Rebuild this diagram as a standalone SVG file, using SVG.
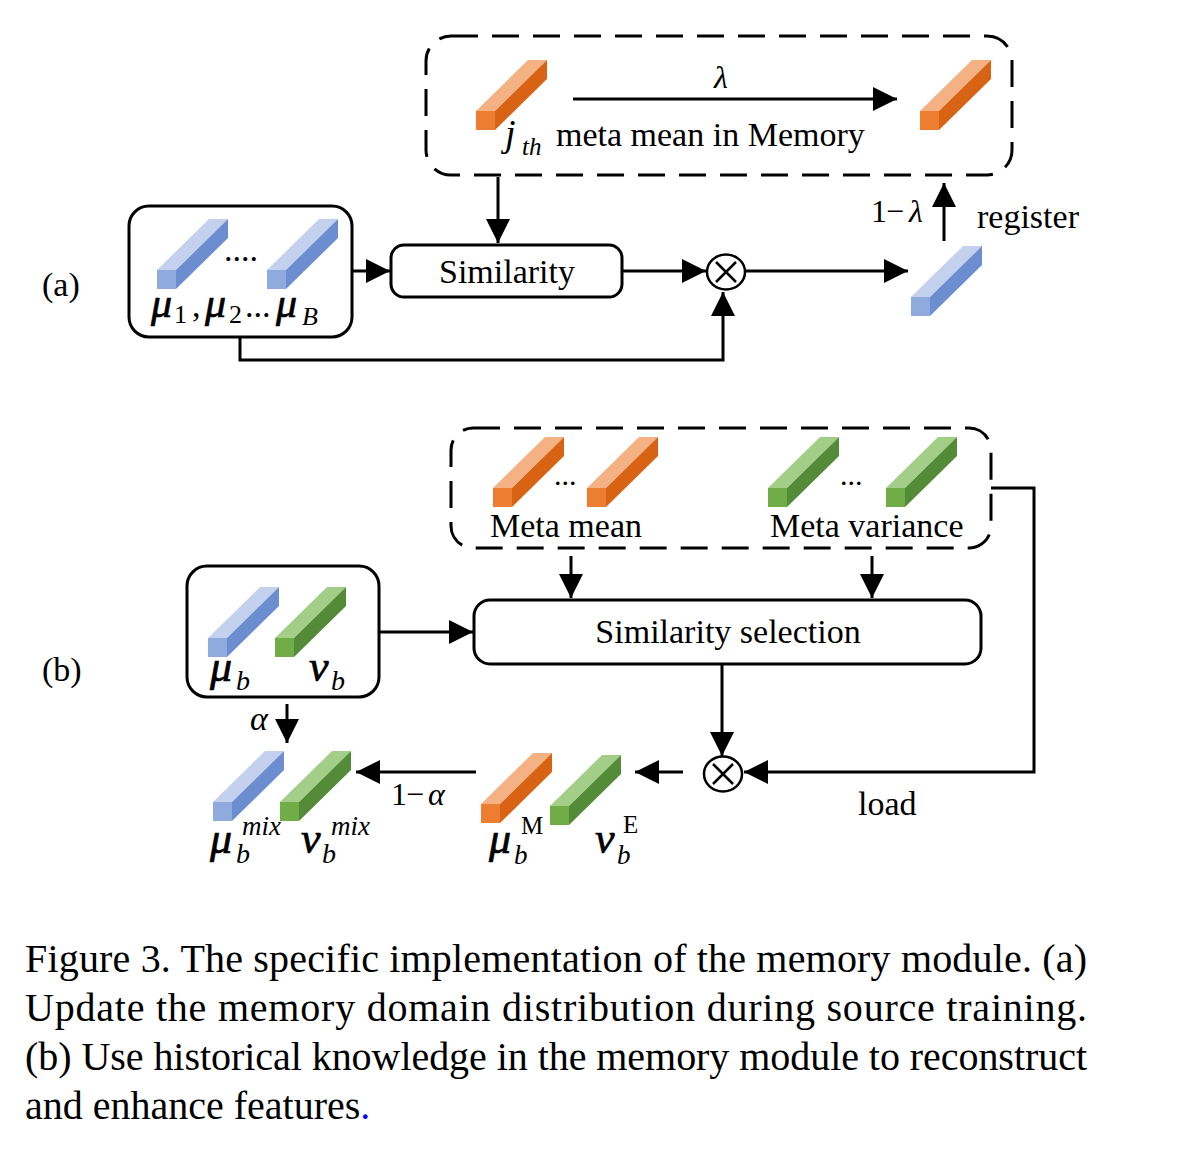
<svg xmlns="http://www.w3.org/2000/svg" width="1188" height="1175" viewBox="0 0 1188 1175">
<style>
.ln{stroke:#000;stroke-width:3;fill:none}
.arr{marker-end:url(#ah)}
.box{fill:none;stroke:#000;stroke-width:3}
.dash{stroke-dasharray:27 14}
text{font-family:"Liberation Serif","Times New Roman",serif;fill:#000}
.i{font-style:italic}
.n{font-style:normal;stroke:none}
.m{font-style:italic;stroke:#000;stroke-width:0.7}
.s34{font-size:34px}
.cap{font-size:40px}
</style>
<defs>
<marker id="ah" markerUnits="userSpaceOnUse" markerWidth="24" markerHeight="24" refX="24" refY="12" orient="auto">
<path d="M0,0 L24,12 L0,24 z" fill="#000"/>
</marker>
<g id="bb"><polygon points="0,0 19,0 71,-51 52,-51" fill="#C3D1EE"/><polygon points="19,0 71,-51 71,-32 19,19" fill="#6C8ED0"/><rect x="0" y="0" width="19" height="19" fill="#8FAADC"/></g>
<g id="bo"><polygon points="0,0 19,0 71,-51 52,-51" fill="#F4B183"/><polygon points="19,0 71,-51 71,-32 19,19" fill="#D86315"/><rect x="0" y="0" width="19" height="19" fill="#ED7D31"/></g>
<g id="bg"><polygon points="0,0 19,0 71,-51 52,-51" fill="#A2CE88"/><polygon points="19,0 71,-51 71,-32 19,19" fill="#548B38"/><rect x="0" y="0" width="19" height="19" fill="#70AD47"/></g>
<g id="otimes"><ellipse cx="0" cy="0" rx="19" ry="17.5" fill="#fff" stroke="#000" stroke-width="2.5"/><path d="M-10,-10 L10,10 M10,-10 L-10,10" stroke="#000" stroke-width="2.5"/></g>
</defs>

<g id="connectors">
<path class="ln arr" d="M498,177 L498,243"/>
<path class="ln arr" d="M352,271 L390,271"/>
<path class="ln arr" d="M622,271 L706,271"/>
<path class="ln arr" d="M745,271 L908,271"/>
<path class="ln arr" d="M944,241 L944,183"/>
<path class="ln arr" d="M240,337 L240,360 L723,360 L723,292"/>
<path class="ln arr" d="M573,99 L897,99"/>
<path class="ln arr" d="M571,556 L571,598"/>
<path class="ln arr" d="M872,556 L872,598"/>
<path class="ln arr" d="M379,632 L473,632"/>
<path class="ln arr" d="M722,664 L722,756"/>
<path class="ln arr" d="M991,488 L1034,488 L1034,772 L744,772"/>
<path class="ln arr" d="M683,772 L635,772"/>
<path class="ln arr" d="M476,772 L356,772"/>
<path class="ln arr" d="M287,704 L287,743"/>
</g>

<g id="memory-a">
<rect class="box dash" x="426" y="36" width="586" height="139" rx="25"/>
<use href="#bo" x="476" y="111"/>
<use href="#bo" x="920" y="111"/>
<text class="i" x="714" y="88" font-size="32">λ</text>
<text class="i"><tspan x="505" y="146" font-size="38">j</tspan><tspan x="522" y="155" font-size="25">th</tspan></text>
<text class="s34" x="556" y="146">meta mean in Memory</text>
</g>

<g id="mu-box-a">
<rect class="box" x="129" y="206" width="223" height="131" rx="20"/>
<use href="#bb" x="157" y="270"/>
<use href="#bb" x="267" y="270"/>
<text class="s34" x="224" y="261">....</text>
<text class="m" font-size="42"><tspan x="151" y="317">μ</tspan><tspan class="n" x="174" y="323" font-size="26">1</tspan><tspan class="n" x="192" y="317" font-size="34">,</tspan><tspan x="205" y="317">μ</tspan><tspan class="n" x="229" y="323" font-size="26">2</tspan><tspan class="n" x="245" y="317" font-size="34">...</tspan><tspan x="276" y="317">μ</tspan><tspan class="i" style="stroke:none" x="302" y="325" font-size="26">B</tspan></text>
</g>

<g id="similarity-a">
<rect class="box" x="391" y="245" width="231" height="52" rx="13"/>
<text class="s34" x="507" y="283" text-anchor="middle">Similarity</text>
</g>

<g id="otimes-a"><use href="#otimes" x="726" y="272"/></g>

<g id="bar-out-a">
<use href="#bb" x="911" y="297"/>
<text font-size="32" y="222"><tspan x="871">1</tspan><tspan x="886">−</tspan><tspan class="i" x="909">λ</tspan></text>
<text class="s34" x="977" y="228">register</text>
</g>

<text id="label-a" class="s34" x="42" y="296">(a)</text>

<g id="memory-b">
<rect class="box dash" x="451" y="428" width="540" height="120" rx="22"/>
<use href="#bo" x="493" y="488"/>
<use href="#bo" x="587" y="488"/>
<use href="#bg" x="768" y="488"/>
<use href="#bg" x="886" y="488"/>
<text font-size="30" x="554" y="485">...</text>
<text font-size="30" x="840" y="485">...</text>
<text class="s34" x="490" y="537">Meta mean</text>
<text class="s34" x="770" y="537">Meta variance</text>
</g>

<g id="sim-select-b">
<rect class="box" x="474" y="600" width="507" height="64" rx="16"/>
<text class="s34" x="728" y="643" text-anchor="middle">Similarity selection</text>
</g>

<g id="input-b">
<rect class="box" x="187" y="566" width="192" height="131" rx="20"/>
<use href="#bb" x="208" y="638"/>
<use href="#bg" x="275" y="638"/>
<text class="m" font-size="44"><tspan x="210" y="681">μ</tspan><tspan style="stroke:none" x="236" y="690" font-size="28">b</tspan></text>
<text class="m" font-size="44"><tspan x="309" y="681">v</tspan><tspan style="stroke:none" x="331" y="690" font-size="28">b</tspan></text>
</g>

<text id="label-b" class="s34" x="42" y="681">(b)</text>

<g id="otimes-b"><use href="#otimes" x="723" y="774"/></g>
<text id="load" class="s34" x="858" y="815">load</text>

<g id="enhanced-b">
<use href="#bo" x="481" y="804"/>
<use href="#bg" x="550" y="806"/>
<text class="m" font-size="44"><tspan x="489" y="853">μ</tspan><tspan style="stroke:none" x="514" y="864" font-size="27">b</tspan><tspan class="n" x="521" y="834" font-size="25">M</tspan></text>
<text class="m" font-size="44"><tspan x="595" y="853">v</tspan><tspan style="stroke:none" x="617" y="864" font-size="27">b</tspan><tspan class="n" x="623" y="833" font-size="25">E</tspan></text>
</g>
<text id="one-minus-alpha" font-size="32" y="805"><tspan x="391">1</tspan><tspan x="406">−</tspan><tspan class="i" x="428">α</tspan></text>
<text id="alpha" class="i" x="250" y="730" font-size="34">α</text>

<g id="mix-b">
<use href="#bb" x="213" y="802"/>
<use href="#bg" x="280" y="802"/>
<text class="m" font-size="44"><tspan x="210" y="853">μ</tspan><tspan style="stroke:none" x="236" y="863" font-size="28">b</tspan><tspan style="stroke:none" x="242" y="835" font-size="27">mix</tspan></text>
<text class="m" font-size="44"><tspan x="301" y="853">v</tspan><tspan style="stroke:none" x="322" y="863" font-size="28">b</tspan><tspan style="stroke:none" x="331" y="835" font-size="27">mix</tspan></text>
</g>

<g id="caption">
<text class="cap" x="25" y="972" textLength="1062" lengthAdjust="spacing">Figure 3. The specific implementation of the memory module. (a)</text>
<text class="cap" x="25" y="1021" textLength="1062" lengthAdjust="spacing">Update the memory domain distribution during source training.</text>
<text class="cap" x="25" y="1070" textLength="1062" lengthAdjust="spacing">(b) Use historical knowledge in the memory module to reconstruct</text>
<text class="cap" x="25" y="1119">and enhance features<tspan fill="#0000FF">.</tspan></text>
</g>
</svg>
